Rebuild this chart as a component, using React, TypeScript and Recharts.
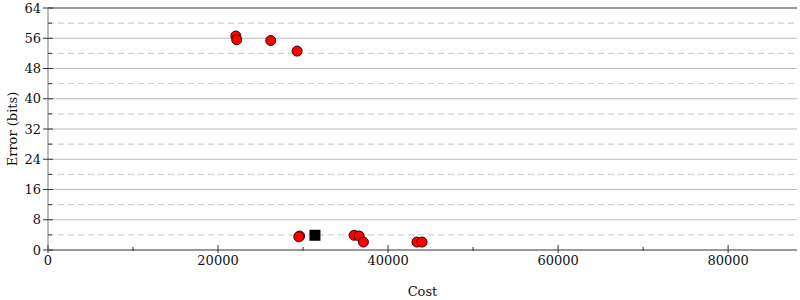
import React from 'react';
import { ScatterChart, Scatter, XAxis, YAxis, ReferenceLine } from 'recharts';

// sampled points (cost, error in bits)
const costs = [22100, 22200, 26200, 29300, 29600, 29500, 36000, 36600, 37100, 43400, 44000];
const errors = [56.6, 55.6, 55.4, 52.6, 3.7, 3.5, 3.9, 3.7, 2.1, 2.1, 2.1];

// starting program
const startCost = [31400];
const startError = [3.9];

const xTicks = [0, 10000, 20000, 30000, 40000, 50000, 60000, 70000, 80000];
const yTicks = [0, 4, 8, 12, 16, 20, 24, 28, 32, 36, 40, 44, 48, 52, 56, 60, 64];
const xMax = 88100;
const yMax = 64;

const points = costs.map((c, i) => ({ cost: c, error: errors[i] }));
const start = startCost.map((c, i) => ({ cost: c, error: startError[i] }));

const FONT = '"DejaVu Serif", serif';

function LeftTick(props: any) {
  const { x, y, payload } = props;
  const major = payload.value % 8 === 0;
  return (
    <g>
      <line x1={major ? x - 5 : x} x2={major ? x + 5 : x + 4} y1={y} y2={y} stroke="#333" strokeWidth={1} />
      {major && (
        <text x={x - 7} y={y} dy="0.35em" textAnchor="end" fontSize={13} fontFamily={FONT} fill="#111">
          {payload.value}
        </text>
      )}
    </g>
  );
}

function RightTick(props: any) {
  const { x, y, payload } = props;
  const major = payload.value % 8 === 0;
  return <line x1={major ? x - 5 : x - 4} x2={major ? x + 5 : x} y1={y} y2={y} stroke="#333" strokeWidth={1} />;
}

function BottomTick(props: any) {
  const { x, y, payload } = props;
  const major = payload.value % 20000 === 0;
  return (
    <g>
      <line x1={x} x2={x} y1={major ? y - 5 : y - 3} y2={major ? y + 3 : y + 1} stroke="#333" strokeWidth={1} />
      {major && (
        <text x={x} y={y + 15} textAnchor="middle" fontSize={13} fontFamily={FONT} fill="#111">
          {payload.value}
        </text>
      )}
    </g>
  );
}

function Dot(props: any) {
  const { cx, cy } = props;
  return <circle cx={cx} cy={cy} r={5} fill="#ff0000" stroke="#400000" strokeWidth={1} />;
}

function Square(props: any) {
  const { cx, cy } = props;
  return <rect x={cx - 5.5} y={cy - 5.5} width={11} height={11} fill="#000" />;
}

export default function App() {
  return (
    <div style={{ position: 'absolute', left: 0, top: 0, width: 800, height: 300 }}>
      <ScatterChart width={800} height={300} margin={{ top: 8, right: 3, bottom: 0, left: 0 }}>
        <XAxis
          type="number"
          dataKey="cost"
          domain={[0, xMax]}
          ticks={xTicks}
          interval={0}
          tickSize={0}
          tickMargin={0}
          height={50}
          tick={<BottomTick />}
          axisLine={{ stroke: '#999', strokeWidth: 2 }}
          label={{ value: 'Cost', position: 'insideBottom', offset: 4, fontSize: 13, fontFamily: FONT, fill: '#111' }}
        />
        <YAxis
          yAxisId="left"
          type="number"
          dataKey="error"
          domain={[0, yMax]}
          ticks={yTicks}
          interval={0}
          tickSize={0}
          tickMargin={0}
          width={48}
          tick={<LeftTick />}
          axisLine={{ stroke: '#bbb', strokeWidth: 2 }}
          label={{ value: 'Error (bits)', angle: -90, position: 'insideLeft', offset: 0, dx: 12, fontSize: 13, fontFamily: FONT, fill: '#111', style: { textAnchor: 'middle' } }}
        />
        <YAxis
          yAxisId="right"
          orientation="right"
          type="number"
          domain={[0, yMax]}
          ticks={yTicks}
          interval={0}
          tickSize={0}
          tickMargin={0}
          width={0}
          tick={<RightTick />}
          axisLine={{ stroke: '#bbb', strokeWidth: 2 }}
        />
        {yTicks
          .filter((v) => v > 0 && v < yMax)
          .map((v) => (
            <ReferenceLine
              key={v}
              yAxisId="left"
              y={v}
              stroke={v % 8 === 0 ? '#bbb' : '#c8c8c8'}
              strokeWidth={1}
              strokeDasharray={v % 8 === 0 ? undefined : '6 4'}
            />
          ))}
        <ReferenceLine yAxisId="left" y={yMax} stroke="#999" strokeWidth={2} />
        <Scatter yAxisId="left" data={points} shape={<Dot />} isAnimationActive={false} />
        <Scatter yAxisId="left" data={start} shape={<Square />} isAnimationActive={false} />
      </ScatterChart>
    </div>
  );
}
